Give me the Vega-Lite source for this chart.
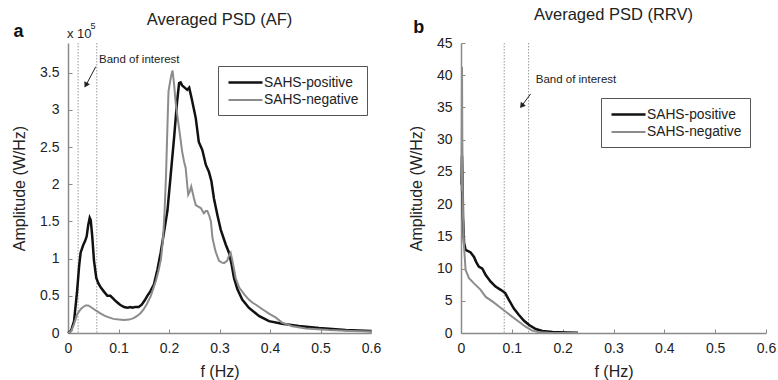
{
  "$schema": "https://vega.github.io/schema/vega-lite/v6.json",
  "padding": {"left": 11, "top": 6, "right": 2, "bottom": 2},
  "spacing": 90,
  "bounds": "flush",
  "resolve": {"scale": {"color": "independent", "strokeWidth": "independent"}, "legend": {"color": "independent"}},
  "config": {
    "font": "Liberation Sans",
    "view": {"stroke": null},
    "axis": {"domainColor": "#8a8a8a", "domainWidth": 1.5, "tickColor": "#8a8a8a", "tickSize": -4, "tickWidth": 1, "labelFontSize": 14, "labelColor": "#222", "labelFlush": false, "labelOverlap": false, "titleFontSize": 16, "titleFontWeight": "normal", "titleColor": "#222", "grid": false},
    "axisX": {"labelPadding": 12, "titlePadding": 8},
    "axisY": {"labelPadding": 13, "titlePadding": 12},
    "title": {"fontSize": 16.5, "fontWeight": "normal", "color": "#222", "anchor": "middle", "frame": "group"},
    "legend": {"orient": "none", "strokeColor": "#555", "fillColor": "#fff", "padding": 8, "symbolType": "M-2.43,0H2.43", "symbolSize": 196, "symbolOffset": 11, "symbolStrokeWidth": 2.5, "labelFontSize": 13.8, "labelColor": "#222", "labelOffset": 10, "rowPadding": 2, "title": null}
  },
  "datasets": {
    "af": [
      {"f": 0.000, "amp": 0.00, "series": "SAHS-positive"},
      {"f": 0.006, "amp": 0.03, "series": "SAHS-positive"},
      {"f": 0.012, "amp": 0.16, "series": "SAHS-positive"},
      {"f": 0.018, "amp": 0.56, "series": "SAHS-positive"},
      {"f": 0.022, "amp": 0.90, "series": "SAHS-positive"},
      {"f": 0.025, "amp": 1.08, "series": "SAHS-positive"},
      {"f": 0.030, "amp": 1.18, "series": "SAHS-positive"},
      {"f": 0.034, "amp": 1.24, "series": "SAHS-positive"},
      {"f": 0.037, "amp": 1.30, "series": "SAHS-positive"},
      {"f": 0.040, "amp": 1.45, "series": "SAHS-positive"},
      {"f": 0.043, "amp": 1.55, "series": "SAHS-positive"},
      {"f": 0.045, "amp": 1.52, "series": "SAHS-positive"},
      {"f": 0.048, "amp": 1.30, "series": "SAHS-positive"},
      {"f": 0.0515, "amp": 0.97, "series": "SAHS-positive"},
      {"f": 0.056, "amp": 0.74, "series": "SAHS-positive"},
      {"f": 0.060, "amp": 0.67, "series": "SAHS-positive"},
      {"f": 0.065, "amp": 0.61, "series": "SAHS-positive"},
      {"f": 0.072, "amp": 0.55, "series": "SAHS-positive"},
      {"f": 0.078, "amp": 0.50, "series": "SAHS-positive"},
      {"f": 0.084, "amp": 0.50, "series": "SAHS-positive"},
      {"f": 0.090, "amp": 0.46, "series": "SAHS-positive"},
      {"f": 0.096, "amp": 0.42, "series": "SAHS-positive"},
      {"f": 0.103, "amp": 0.38, "series": "SAHS-positive"},
      {"f": 0.111, "amp": 0.35, "series": "SAHS-positive"},
      {"f": 0.118, "amp": 0.34, "series": "SAHS-positive"},
      {"f": 0.124, "amp": 0.35, "series": "SAHS-positive"},
      {"f": 0.127, "amp": 0.34, "series": "SAHS-positive"},
      {"f": 0.133, "amp": 0.35, "series": "SAHS-positive"},
      {"f": 0.140, "amp": 0.35, "series": "SAHS-positive"},
      {"f": 0.146, "amp": 0.38, "series": "SAHS-positive"},
      {"f": 0.152, "amp": 0.44, "series": "SAHS-positive"},
      {"f": 0.157, "amp": 0.50, "series": "SAHS-positive"},
      {"f": 0.163, "amp": 0.56, "series": "SAHS-positive"},
      {"f": 0.170, "amp": 0.65, "series": "SAHS-positive"},
      {"f": 0.177, "amp": 0.85, "series": "SAHS-positive"},
      {"f": 0.1835, "amp": 1.08, "series": "SAHS-positive"},
      {"f": 0.190, "amp": 1.35, "series": "SAHS-positive"},
      {"f": 0.197, "amp": 1.65, "series": "SAHS-positive"},
      {"f": 0.203, "amp": 2.10, "series": "SAHS-positive"},
      {"f": 0.210, "amp": 2.62, "series": "SAHS-positive"},
      {"f": 0.216, "amp": 3.11, "series": "SAHS-positive"},
      {"f": 0.220, "amp": 3.36, "series": "SAHS-positive"},
      {"f": 0.223, "amp": 3.37, "series": "SAHS-positive"},
      {"f": 0.226, "amp": 3.33, "series": "SAHS-positive"},
      {"f": 0.231, "amp": 3.30, "series": "SAHS-positive"},
      {"f": 0.236, "amp": 3.27, "series": "SAHS-positive"},
      {"f": 0.240, "amp": 3.30, "series": "SAHS-positive"},
      {"f": 0.245, "amp": 3.15, "series": "SAHS-positive"},
      {"f": 0.249, "amp": 3.02, "series": "SAHS-positive"},
      {"f": 0.253, "amp": 2.89, "series": "SAHS-positive"},
      {"f": 0.259, "amp": 2.57, "series": "SAHS-positive"},
      {"f": 0.266, "amp": 2.46, "series": "SAHS-positive"},
      {"f": 0.273, "amp": 2.26, "series": "SAHS-positive"},
      {"f": 0.279, "amp": 2.17, "series": "SAHS-positive"},
      {"f": 0.284, "amp": 2.04, "series": "SAHS-positive"},
      {"f": 0.289, "amp": 1.81, "series": "SAHS-positive"},
      {"f": 0.2957, "amp": 1.59, "series": "SAHS-positive"},
      {"f": 0.3024, "amp": 1.39, "series": "SAHS-positive"},
      {"f": 0.3123, "amp": 1.19, "series": "SAHS-positive"},
      {"f": 0.3188, "amp": 1.08, "series": "SAHS-positive"},
      {"f": 0.324, "amp": 0.92, "series": "SAHS-positive"},
      {"f": 0.3287, "amp": 0.74, "series": "SAHS-positive"},
      {"f": 0.3353, "amp": 0.59, "series": "SAHS-positive"},
      {"f": 0.345, "amp": 0.45, "series": "SAHS-positive"},
      {"f": 0.358, "amp": 0.34, "series": "SAHS-positive"},
      {"f": 0.378, "amp": 0.23, "series": "SAHS-positive"},
      {"f": 0.398, "amp": 0.16, "series": "SAHS-positive"},
      {"f": 0.424, "amp": 0.125, "series": "SAHS-positive"},
      {"f": 0.457, "amp": 0.094, "series": "SAHS-positive"},
      {"f": 0.497, "amp": 0.067, "series": "SAHS-positive"},
      {"f": 0.55, "amp": 0.04, "series": "SAHS-positive"},
      {"f": 0.6, "amp": 0.027, "series": "SAHS-positive"},
      {"f": 0.000, "amp": 0.00, "series": "SAHS-negative"},
      {"f": 0.006, "amp": 0.02, "series": "SAHS-negative"},
      {"f": 0.012, "amp": 0.12, "series": "SAHS-negative"},
      {"f": 0.018, "amp": 0.25, "series": "SAHS-negative"},
      {"f": 0.025, "amp": 0.32, "series": "SAHS-negative"},
      {"f": 0.030, "amp": 0.35, "series": "SAHS-negative"},
      {"f": 0.035, "amp": 0.37, "series": "SAHS-negative"},
      {"f": 0.040, "amp": 0.37, "series": "SAHS-negative"},
      {"f": 0.045, "amp": 0.35, "series": "SAHS-negative"},
      {"f": 0.0515, "amp": 0.32, "series": "SAHS-negative"},
      {"f": 0.058, "amp": 0.29, "series": "SAHS-negative"},
      {"f": 0.065, "amp": 0.26, "series": "SAHS-negative"},
      {"f": 0.073, "amp": 0.23, "series": "SAHS-negative"},
      {"f": 0.081, "amp": 0.21, "series": "SAHS-negative"},
      {"f": 0.090, "amp": 0.19, "series": "SAHS-negative"},
      {"f": 0.101, "amp": 0.18, "series": "SAHS-negative"},
      {"f": 0.111, "amp": 0.175, "series": "SAHS-negative"},
      {"f": 0.121, "amp": 0.18, "series": "SAHS-negative"},
      {"f": 0.130, "amp": 0.20, "series": "SAHS-negative"},
      {"f": 0.137, "amp": 0.23, "series": "SAHS-negative"},
      {"f": 0.144, "amp": 0.27, "series": "SAHS-negative"},
      {"f": 0.150, "amp": 0.32, "series": "SAHS-negative"},
      {"f": 0.157, "amp": 0.40, "series": "SAHS-negative"},
      {"f": 0.164, "amp": 0.50, "series": "SAHS-negative"},
      {"f": 0.169, "amp": 0.60, "series": "SAHS-negative"},
      {"f": 0.174, "amp": 0.70, "series": "SAHS-negative"},
      {"f": 0.179, "amp": 0.83, "series": "SAHS-negative"},
      {"f": 0.184, "amp": 0.99, "series": "SAHS-negative"},
      {"f": 0.188, "amp": 1.25, "series": "SAHS-negative"},
      {"f": 0.191, "amp": 1.60, "series": "SAHS-negative"},
      {"f": 0.194, "amp": 2.10, "series": "SAHS-negative"},
      {"f": 0.197, "amp": 2.80, "series": "SAHS-negative"},
      {"f": 0.199, "amp": 3.25, "series": "SAHS-negative"},
      {"f": 0.201, "amp": 3.33, "series": "SAHS-negative"},
      {"f": 0.204, "amp": 3.45, "series": "SAHS-negative"},
      {"f": 0.207, "amp": 3.53, "series": "SAHS-negative"},
      {"f": 0.210, "amp": 3.35, "series": "SAHS-negative"},
      {"f": 0.213, "amp": 3.11, "series": "SAHS-negative"},
      {"f": 0.217, "amp": 2.90, "series": "SAHS-negative"},
      {"f": 0.220, "amp": 2.75, "series": "SAHS-negative"},
      {"f": 0.223, "amp": 2.60, "series": "SAHS-negative"},
      {"f": 0.226, "amp": 2.44, "series": "SAHS-negative"},
      {"f": 0.230, "amp": 2.30, "series": "SAHS-negative"},
      {"f": 0.233, "amp": 2.22, "series": "SAHS-negative"},
      {"f": 0.236, "amp": 2.00, "series": "SAHS-negative"},
      {"f": 0.238, "amp": 1.86, "series": "SAHS-negative"},
      {"f": 0.241, "amp": 1.90, "series": "SAHS-negative"},
      {"f": 0.244, "amp": 1.97, "series": "SAHS-negative"},
      {"f": 0.2495, "amp": 1.81, "series": "SAHS-negative"},
      {"f": 0.253, "amp": 1.72, "series": "SAHS-negative"},
      {"f": 0.258, "amp": 1.70, "series": "SAHS-negative"},
      {"f": 0.263, "amp": 1.68, "series": "SAHS-negative"},
      {"f": 0.269, "amp": 1.61, "series": "SAHS-negative"},
      {"f": 0.273, "amp": 1.64, "series": "SAHS-negative"},
      {"f": 0.276, "amp": 1.64, "series": "SAHS-negative"},
      {"f": 0.280, "amp": 1.57, "series": "SAHS-negative"},
      {"f": 0.283, "amp": 1.50, "series": "SAHS-negative"},
      {"f": 0.286, "amp": 1.28, "series": "SAHS-negative"},
      {"f": 0.292, "amp": 1.10, "series": "SAHS-negative"},
      {"f": 0.299, "amp": 0.97, "series": "SAHS-negative"},
      {"f": 0.304, "amp": 0.95, "series": "SAHS-negative"},
      {"f": 0.309, "amp": 0.94, "series": "SAHS-negative"},
      {"f": 0.315, "amp": 0.97, "series": "SAHS-negative"},
      {"f": 0.320, "amp": 1.06, "series": "SAHS-negative"},
      {"f": 0.322, "amp": 1.08, "series": "SAHS-negative"},
      {"f": 0.325, "amp": 0.99, "series": "SAHS-negative"},
      {"f": 0.329, "amp": 0.85, "series": "SAHS-negative"},
      {"f": 0.332, "amp": 0.74, "series": "SAHS-negative"},
      {"f": 0.339, "amp": 0.61, "series": "SAHS-negative"},
      {"f": 0.349, "amp": 0.52, "series": "SAHS-negative"},
      {"f": 0.358, "amp": 0.45, "series": "SAHS-negative"},
      {"f": 0.365, "amp": 0.41, "series": "SAHS-negative"},
      {"f": 0.372, "amp": 0.38, "series": "SAHS-negative"},
      {"f": 0.385, "amp": 0.32, "series": "SAHS-negative"},
      {"f": 0.398, "amp": 0.26, "series": "SAHS-negative"},
      {"f": 0.411, "amp": 0.21, "series": "SAHS-negative"},
      {"f": 0.424, "amp": 0.14, "series": "SAHS-negative"},
      {"f": 0.444, "amp": 0.09, "series": "SAHS-negative"},
      {"f": 0.471, "amp": 0.06, "series": "SAHS-negative"},
      {"f": 0.517, "amp": 0.04, "series": "SAHS-negative"},
      {"f": 0.56, "amp": 0.028, "series": "SAHS-negative"},
      {"f": 0.6, "amp": 0.02, "series": "SAHS-negative"}
    ],
    "rrv": [
      {"f": 0.001, "amp": 23.0, "series": "SAHS-positive"},
      {"f": 0.002, "amp": 27.5, "series": "SAHS-positive"},
      {"f": 0.003, "amp": 24.0, "series": "SAHS-positive"},
      {"f": 0.004, "amp": 18.0, "series": "SAHS-positive"},
      {"f": 0.006, "amp": 14.0, "series": "SAHS-positive"},
      {"f": 0.009, "amp": 12.9, "series": "SAHS-positive"},
      {"f": 0.014, "amp": 12.7, "series": "SAHS-positive"},
      {"f": 0.019, "amp": 12.5, "series": "SAHS-positive"},
      {"f": 0.0256, "amp": 11.8, "series": "SAHS-positive"},
      {"f": 0.030, "amp": 11.0, "series": "SAHS-positive"},
      {"f": 0.035, "amp": 10.3, "series": "SAHS-positive"},
      {"f": 0.042, "amp": 10.0, "series": "SAHS-positive"},
      {"f": 0.0486, "amp": 9.0, "series": "SAHS-positive"},
      {"f": 0.058, "amp": 8.0, "series": "SAHS-positive"},
      {"f": 0.068, "amp": 7.2, "series": "SAHS-positive"},
      {"f": 0.078, "amp": 6.7, "series": "SAHS-positive"},
      {"f": 0.087, "amp": 6.2, "series": "SAHS-positive"},
      {"f": 0.0945, "amp": 5.1, "series": "SAHS-positive"},
      {"f": 0.104, "amp": 3.8, "series": "SAHS-positive"},
      {"f": 0.114, "amp": 2.8, "series": "SAHS-positive"},
      {"f": 0.124, "amp": 1.9, "series": "SAHS-positive"},
      {"f": 0.134, "amp": 1.24, "series": "SAHS-positive"},
      {"f": 0.147, "amp": 0.62, "series": "SAHS-positive"},
      {"f": 0.160, "amp": 0.31, "series": "SAHS-positive"},
      {"f": 0.180, "amp": 0.15, "series": "SAHS-positive"},
      {"f": 0.206, "amp": 0.08, "series": "SAHS-positive"},
      {"f": 0.23, "amp": 0.05, "series": "SAHS-positive"},
      {"f": 0.001, "amp": 22.0, "series": "SAHS-negative"},
      {"f": 0.002, "amp": 41.3, "series": "SAHS-negative"},
      {"f": 0.0026, "amp": 30.0, "series": "SAHS-negative"},
      {"f": 0.004, "amp": 18.0, "series": "SAHS-negative"},
      {"f": 0.006, "amp": 13.4, "series": "SAHS-negative"},
      {"f": 0.009, "amp": 9.8, "series": "SAHS-negative"},
      {"f": 0.0157, "amp": 8.5, "series": "SAHS-negative"},
      {"f": 0.0256, "amp": 7.7, "series": "SAHS-negative"},
      {"f": 0.0387, "amp": 6.7, "series": "SAHS-negative"},
      {"f": 0.0486, "amp": 5.6, "series": "SAHS-negative"},
      {"f": 0.0617, "amp": 4.9, "series": "SAHS-negative"},
      {"f": 0.0748, "amp": 4.1, "series": "SAHS-negative"},
      {"f": 0.088, "amp": 3.3, "series": "SAHS-negative"},
      {"f": 0.101, "amp": 2.5, "series": "SAHS-negative"},
      {"f": 0.114, "amp": 1.75, "series": "SAHS-negative"},
      {"f": 0.127, "amp": 0.98, "series": "SAHS-negative"},
      {"f": 0.140, "amp": 0.36, "series": "SAHS-negative"},
      {"f": 0.1535, "amp": 0.1, "series": "SAHS-negative"},
      {"f": 0.173, "amp": 0.03, "series": "SAHS-negative"},
      {"f": 0.23, "amp": 0.01, "series": "SAHS-negative"}
    ]
  },
  "hconcat": [
    {
      "width": 303,
      "height": 290,
      "title": {"text": "Averaged PSD (AF)", "offset": -6},
      "layer": [
        {
          "data": {"values": [{"f": 0.02}, {"f": 0.057}]},
          "mark": {"type": "rule", "color": "#9a9a9a", "strokeWidth": 1, "strokeDash": [1.5, 1.5]},
          "encoding": {"x": {"field": "f", "type": "quantitative", "scale": {"domain": [0, 0.6], "nice": false}, "title": "f (Hz)", "axis": {"values": [0, 0.1, 0.2, 0.3, 0.4, 0.5, 0.6], "format": "~g"}}}
        },
        {
          "data": {"name": "af"},
          "mark": {"type": "line", "interpolate": "linear"},
          "encoding": {
            "x": {"field": "f", "type": "quantitative", "scale": {"domain": [0, 0.6], "nice": false}, "title": "f (Hz)", "axis": {"values": [0, 0.1, 0.2, 0.3, 0.4, 0.5, 0.6], "format": "~g"}},
            "y": {"field": "amp", "type": "quantitative", "scale": {"domain": [0, 3.9], "nice": false}, "title": "Amplitude (W/Hz)", "axis": {"values": [0, 0.5, 1, 1.5, 2, 2.5, 3, 3.5], "format": "~g"}},
            "color": {"field": "series", "type": "nominal", "scale": {"domain": ["SAHS-positive", "SAHS-negative"], "range": ["#111111", "#8c8c8c"]}, "legend": {"legendX": 150, "legendY": 23}},
            "strokeWidth": {"field": "series", "type": "nominal", "scale": {"domain": ["SAHS-positive", "SAHS-negative"], "range": [2.5, 2]}, "legend": null}
          }
        },
        {
          "data": {"values": [{"f": 0.0614, "amp": 3.67, "label": "Band of interest"}]},
          "mark": {"type": "text", "align": "left", "baseline": "middle", "fontSize": 11.5, "color": "#222", "clip": false},
          "encoding": {
            "x": {"field": "f", "type": "quantitative", "scale": {"domain": [0, 0.6], "nice": false}, "title": "f (Hz)", "axis": {"values": [0, 0.1, 0.2, 0.3, 0.4, 0.5, 0.6], "format": "~g"}},
            "y": {"field": "amp", "type": "quantitative", "scale": {"domain": [0, 3.9], "nice": false}, "title": "Amplitude (W/Hz)", "axis": {"values": [0, 0.5, 1, 1.5, 2, 2.5, 3, 3.5], "format": "~g"}},
            "text": {"field": "label"}
          }
        },
        {
          "data": {"values": [{"f": -0.098, "amp": 4.05, "label": "a"}]},
          "mark": {"type": "text", "align": "center", "baseline": "middle", "fontSize": 18, "fontWeight": "bold", "color": "#111", "clip": false},
          "encoding": {
            "x": {"field": "f", "type": "quantitative", "scale": {"domain": [0, 0.6], "nice": false}, "title": "f (Hz)", "axis": {"values": [0, 0.1, 0.2, 0.3, 0.4, 0.5, 0.6], "format": "~g"}},
            "y": {"field": "amp", "type": "quantitative", "scale": {"domain": [0, 3.9], "nice": false}, "title": "Amplitude (W/Hz)", "axis": {"values": [0, 0.5, 1, 1.5, 2, 2.5, 3, 3.5], "format": "~g"}},
            "text": {"field": "label"}
          }
        },
        {
          "data": {"values": [{"f": -0.002, "amp": 4.02, "label": "x 10"}]},
          "mark": {"type": "text", "align": "left", "baseline": "middle", "fontSize": 13, "color": "#222", "clip": false},
          "encoding": {
            "x": {"field": "f", "type": "quantitative", "scale": {"domain": [0, 0.6], "nice": false}, "title": "f (Hz)", "axis": {"values": [0, 0.1, 0.2, 0.3, 0.4, 0.5, 0.6], "format": "~g"}},
            "y": {"field": "amp", "type": "quantitative", "scale": {"domain": [0, 3.9], "nice": false}, "title": "Amplitude (W/Hz)", "axis": {"values": [0, 0.5, 1, 1.5, 2, 2.5, 3, 3.5], "format": "~g"}},
            "text": {"field": "label"}
          }
        },
        {
          "data": {"values": [{"f": 0.0445, "amp": 4.125, "label": "5"}]},
          "mark": {"type": "text", "align": "left", "baseline": "middle", "fontSize": 9, "color": "#222", "clip": false},
          "encoding": {
            "x": {"field": "f", "type": "quantitative", "scale": {"domain": [0, 0.6], "nice": false}, "title": "f (Hz)", "axis": {"values": [0, 0.1, 0.2, 0.3, 0.4, 0.5, 0.6], "format": "~g"}},
            "y": {"field": "amp", "type": "quantitative", "scale": {"domain": [0, 3.9], "nice": false}, "title": "Amplitude (W/Hz)", "axis": {"values": [0, 0.5, 1, 1.5, 2, 2.5, 3, 3.5], "format": "~g"}},
            "text": {"field": "label"}
          }
        },
        {
          "data": {"values": [{"f": 0.0549, "amp": 3.58, "f2": 0.0345, "amp2": 3.32}]},
          "mark": {"type": "rule", "color": "#222", "strokeWidth": 1},
          "encoding": {
            "x": {"field": "f", "type": "quantitative", "scale": {"domain": [0, 0.6], "nice": false}, "title": "f (Hz)", "axis": {"values": [0, 0.1, 0.2, 0.3, 0.4, 0.5, 0.6], "format": "~g"}},
            "y": {"field": "amp", "type": "quantitative", "scale": {"domain": [0, 3.9], "nice": false}, "title": "Amplitude (W/Hz)", "axis": {"values": [0, 0.5, 1, 1.5, 2, 2.5, 3, 3.5], "format": "~g"}},
            "x2": {"field": "f2"},
            "y2": {"field": "amp2"}
          }
        },
        {
          "data": {"values": [{"f": 0.0362, "amp": 3.345}]},
          "mark": {"type": "point", "shape": "triangle", "filled": true, "size": 40, "angle": 208, "color": "#222", "opacity": 1},
          "encoding": {
            "x": {"field": "f", "type": "quantitative", "scale": {"domain": [0, 0.6], "nice": false}, "title": "f (Hz)", "axis": {"values": [0, 0.1, 0.2, 0.3, 0.4, 0.5, 0.6], "format": "~g"}},
            "y": {"field": "amp", "type": "quantitative", "scale": {"domain": [0, 3.9], "nice": false}, "title": "Amplitude (W/Hz)", "axis": {"values": [0, 0.5, 1, 1.5, 2, 2.5, 3, 3.5], "format": "~g"}}
          }
        }
      ]
    },
    {
      "width": 305,
      "height": 290,
      "title": {"text": "Averaged PSD (RRV)", "offset": -4},
      "layer": [
        {
          "data": {"values": [{"f": 0.085}, {"f": 0.133}]},
          "mark": {"type": "rule", "color": "#9a9a9a", "strokeWidth": 1, "strokeDash": [1.5, 1.5]},
          "encoding": {"x": {"field": "f", "type": "quantitative", "scale": {"domain": [0, 0.6], "nice": false}, "title": "f (Hz)", "axis": {"values": [0, 0.1, 0.2, 0.3, 0.4, 0.5, 0.6], "format": "~g"}}}
        },
        {
          "data": {"name": "rrv"},
          "mark": {"type": "line", "interpolate": "linear"},
          "encoding": {
            "x": {"field": "f", "type": "quantitative", "scale": {"domain": [0, 0.6], "nice": false}, "title": "f (Hz)", "axis": {"values": [0, 0.1, 0.2, 0.3, 0.4, 0.5, 0.6], "format": "~g"}},
            "y": {"field": "amp", "type": "quantitative", "scale": {"domain": [0, 45], "nice": false}, "title": "Amplitude (W/Hz)", "axis": {"values": [0, 5, 10, 15, 20, 25, 30, 35, 40, 45], "format": "~g"}},
            "color": {"field": "series", "type": "nominal", "scale": {"domain": ["SAHS-positive", "SAHS-negative"], "range": ["#111111", "#8c8c8c"]}, "legend": {"legendX": 140, "legendY": 55}},
            "strokeWidth": {"field": "series", "type": "nominal", "scale": {"domain": ["SAHS-positive", "SAHS-negative"], "range": [2.5, 2]}, "legend": null}
          }
        },
        {
          "data": {"values": [{"f": 0.147, "amp": 39.26, "label": "Band of interest"}]},
          "mark": {"type": "text", "align": "left", "baseline": "middle", "fontSize": 11.5, "color": "#222", "clip": false},
          "encoding": {
            "x": {"field": "f", "type": "quantitative", "scale": {"domain": [0, 0.6], "nice": false}, "title": "f (Hz)", "axis": {"values": [0, 0.1, 0.2, 0.3, 0.4, 0.5, 0.6], "format": "~g"}},
            "y": {"field": "amp", "type": "quantitative", "scale": {"domain": [0, 45], "nice": false}, "title": "Amplitude (W/Hz)", "axis": {"values": [0, 5, 10, 15, 20, 25, 30, 35, 40, 45], "format": "~g"}},
            "text": {"field": "label"}
          }
        },
        {
          "data": {"values": [{"f": -0.083, "amp": 47.3, "label": "b"}]},
          "mark": {"type": "text", "align": "center", "baseline": "middle", "fontSize": 18, "fontWeight": "bold", "color": "#111", "clip": false},
          "encoding": {
            "x": {"field": "f", "type": "quantitative", "scale": {"domain": [0, 0.6], "nice": false}, "title": "f (Hz)", "axis": {"values": [0, 0.1, 0.2, 0.3, 0.4, 0.5, 0.6], "format": "~g"}},
            "y": {"field": "amp", "type": "quantitative", "scale": {"domain": [0, 45], "nice": false}, "title": "Amplitude (W/Hz)", "axis": {"values": [0, 5, 10, 15, 20, 25, 30, 35, 40, 45], "format": "~g"}},
            "text": {"field": "label"}
          }
        },
        {
          "data": {"values": [{"f": 0.137, "amp": 37.1, "f2": 0.119, "amp2": 35.2}]},
          "mark": {"type": "rule", "color": "#222", "strokeWidth": 1},
          "encoding": {
            "x": {"field": "f", "type": "quantitative", "scale": {"domain": [0, 0.6], "nice": false}, "title": "f (Hz)", "axis": {"values": [0, 0.1, 0.2, 0.3, 0.4, 0.5, 0.6], "format": "~g"}},
            "y": {"field": "amp", "type": "quantitative", "scale": {"domain": [0, 45], "nice": false}, "title": "Amplitude (W/Hz)", "axis": {"values": [0, 5, 10, 15, 20, 25, 30, 35, 40, 45], "format": "~g"}},
            "x2": {"field": "f2"},
            "y2": {"field": "amp2"}
          }
        },
        {
          "data": {"values": [{"f": 0.1205, "amp": 35.35}]},
          "mark": {"type": "point", "shape": "triangle", "filled": true, "size": 40, "angle": 217, "color": "#222", "opacity": 1},
          "encoding": {
            "x": {"field": "f", "type": "quantitative", "scale": {"domain": [0, 0.6], "nice": false}, "title": "f (Hz)", "axis": {"values": [0, 0.1, 0.2, 0.3, 0.4, 0.5, 0.6], "format": "~g"}},
            "y": {"field": "amp", "type": "quantitative", "scale": {"domain": [0, 45], "nice": false}, "title": "Amplitude (W/Hz)", "axis": {"values": [0, 5, 10, 15, 20, 25, 30, 35, 40, 45], "format": "~g"}}
          }
        }
      ]
    }
  ]
}
